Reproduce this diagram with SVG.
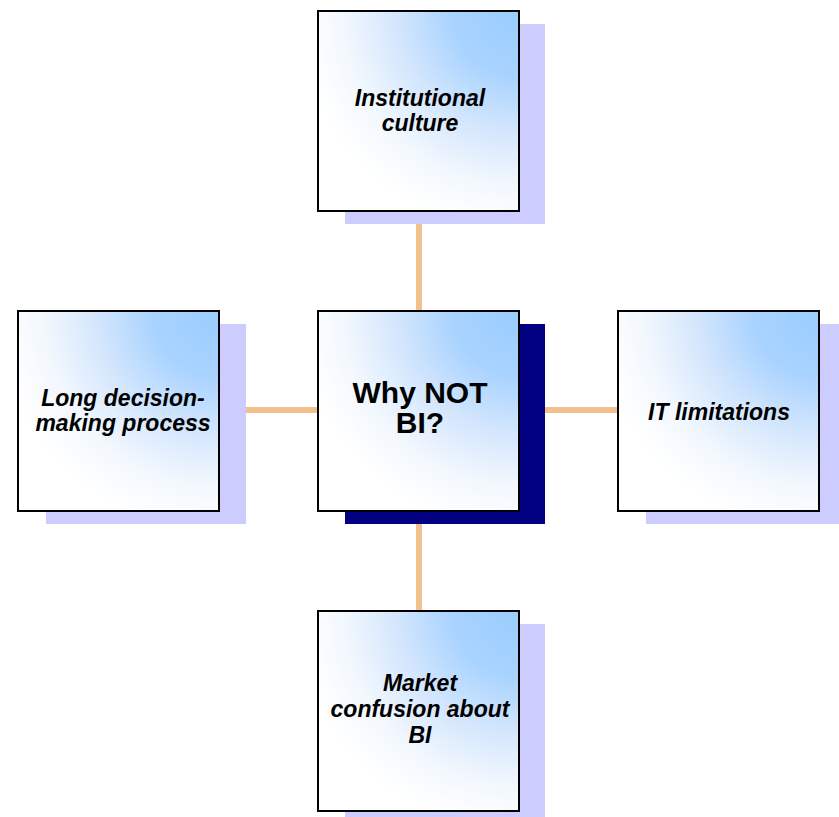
<svg xmlns="http://www.w3.org/2000/svg" width="839" height="817" viewBox="0 0 839 817">
  <defs>
    <radialGradient id="g" cx="1" cy="0" r="1.1" fx="1" fy="0">
      <stop offset="0" stop-color="#99CCFF"/>
      <stop offset="0.3" stop-color="#A9D3FF"/>
      <stop offset="0.55" stop-color="#D3E6FD"/>
      <stop offset="0.8" stop-color="#F3F8FE"/>
      <stop offset="1" stop-color="#FFFFFF"/>
    </radialGradient>
  </defs>
  <style>
    .shadow { fill: #CCCCFF; }
    .shadow-dark { fill: #000080; }
    .box { fill: url(#g); stroke: #000000; stroke-width: 2; }
    .lbl { font-family: "Liberation Sans", Arial, sans-serif; font-weight: bold; font-style: italic; font-size: 23px; fill: #000000; text-anchor: middle; }
    .center { font-family: "Liberation Sans", Arial, sans-serif; font-weight: bold; font-size: 30px; fill: #000000; text-anchor: middle; }
    .conn { stroke: #F2C08E; stroke-width: 6; fill: none; }
  </style>
  <rect width="839" height="817" fill="#FFFFFF"/>
  <g id="connectors">
    <line class="conn" x1="419" y1="224" x2="419" y2="311"/>
    <line class="conn" x1="419" y1="524" x2="419" y2="611"/>
    <line class="conn" x1="246" y1="410" x2="318" y2="410"/>
    <line class="conn" x1="545" y1="410" x2="618" y2="410"/>
  </g>
  <g id="node-top">
    <rect class="shadow" x="345" y="24" width="200" height="200"/>
    <rect class="box" x="318" y="11" width="201" height="200"/>
    <text class="lbl" x="420" y="106">Institutional</text>
    <text class="lbl" x="420" y="131">culture</text>
  </g>
  <g id="node-center">
    <rect class="shadow-dark" x="345" y="324" width="200" height="200"/>
    <rect class="box" x="318" y="311" width="201" height="200"/>
    <text class="center" x="420" y="403">Why NOT</text>
    <text class="center" x="420" y="433">BI?</text>
  </g>
  <g id="node-left">
    <rect class="shadow" x="46" y="324" width="200" height="200"/>
    <rect class="box" x="18" y="311" width="201" height="200"/>
    <text class="lbl" x="123" y="406">Long decision-</text>
    <text class="lbl" x="123" y="431">making process</text>
  </g>
  <g id="node-right">
    <rect class="shadow" x="646" y="324" width="200" height="200"/>
    <rect class="box" x="618" y="311" width="201" height="200"/>
    <text class="lbl" x="719" y="420">IT limitations</text>
  </g>
  <g id="node-bottom">
    <rect class="shadow" x="345" y="624" width="200" height="200"/>
    <rect class="box" x="318" y="611" width="201" height="200"/>
    <text class="lbl" x="420" y="691">Market</text>
    <text class="lbl" x="420" y="717">confusion about</text>
    <text class="lbl" x="420" y="743">BI</text>
  </g>
</svg>
